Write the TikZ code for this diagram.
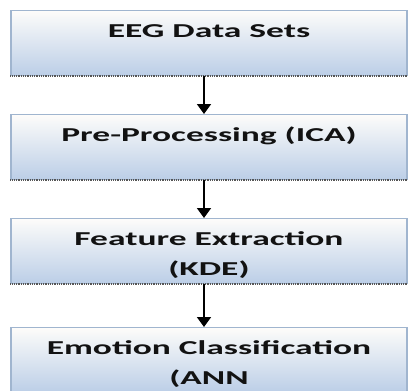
\documentclass[tikz,border=0pt]{standalone}
\usepackage{fontspec}
\setmainfont{Carlito}
\usetikzlibrary{arrows.meta}
\definecolor{boxtop}{RGB}{253,252,250}
\definecolor{boxbot}{RGB}{187,206,231}
\definecolor{boxedge}{RGB}{160,181,207}
\definecolor{shadowline}{RGB}{85,85,85}
\definecolor{ink}{RGB}{18,18,18}
\newcommand{\steptext}[1]{\scalebox{1.8}[1]{\begin{tabular}[t]{@{}c@{}}#1\end{tabular}}}
\tikzset{
  stepbox/.style={rectangle, anchor=north, minimum width=396pt, inner xsep=0pt, inner ysep=0pt,
    text height=27pt, text depth=38pt, top color=boxtop, bottom color=boxbot,
    draw=boxedge, line width=1.2pt, text=ink,
    font=\fontsize{19.7}{30}\selectfont\bfseries},
  shadowedge/.style={draw=shadowline, line width=2pt, dash pattern=on 1pt off 0.8pt},
  flow/.style={draw=black, line width=1.9pt, -{Triangle[width=14pt,length=10pt]}}
}
\begin{document}
\begin{tikzpicture}[x=1pt,y=1pt]
  \useasboundingbox (0,0) rectangle (408,-391);
  \clip (0,0) rectangle (408,-391);
  \node[stepbox] (s1) at (209,-10)  {\steptext{EEG Data Sets}};
  \node[stepbox] (s2) at (209,-114) {\steptext{Pre-Processing (ICA)}};
  \node[stepbox] (s3) at (209,-218) {\steptext{Feature Extraction\\(KDE)}};
  \node[stepbox] (s4) at (209,-327) {\steptext{Emotion Classification\\(ANN}};
  % darker textured lower edges
  \foreach \s in {s1,s2,s3}
    \draw[shadowedge] (\s.south west) -- (\s.south east);
  % connectors between the steps
  \draw[flow] ([xshift=-5pt]s1.south) -- ([xshift=-5pt]s2.north);
  \draw[flow] ([xshift=-5pt]s2.south) -- ([xshift=-5pt]s3.north);
  \draw[flow] ([xshift=-5pt]s3.south) -- ([xshift=-5pt]s4.north);
\end{tikzpicture}
\end{document}
